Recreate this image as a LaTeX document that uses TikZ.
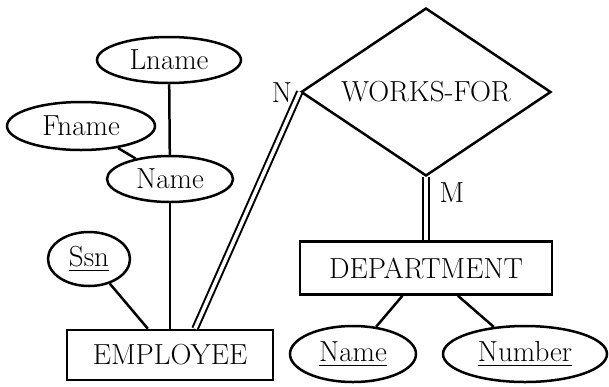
\documentclass[tikz,border=0pt]{standalone}
\usepackage{amsmath}
\usepackage{tikz}
\usetikzlibrary{shapes.geometric}

\begin{document}
\begin{tikzpicture}[x=1pt, y=-1pt, line width=2.5pt,
	every node/.style={font=\fontsize{29}{32}\selectfont, inner sep=0pt},
	attr/.style={draw, ellipse},
	entity/.style={draw, rectangle},
	rel/.style={draw, diamond, aspect=1.48},
	twin/.style={double, double distance=3.5pt, line width=2pt}]
	\useasboundingbox (0, 0) rectangle (609, 386);
	\node [attr, minimum width=144pt, minimum height=46pt] (Lname) at (169, 60) {Lname};
	\node [attr, minimum width=148pt, minimum height=48pt] (Fname) at (81, 126) {Fname};
	\node [attr, minimum width=126pt, minimum height=46pt] (Name) at (170, 179) {Name};
	\node [attr, minimum width=82pt, minimum height=54pt] (Ssn) at (89, 259) {\underline{Ssn}};
	\node [entity, minimum width=206pt, minimum height=50pt] (EMPLOYEE) at (170, 355) {EMPLOYEE};
	\node [rel, minimum width=250pt, minimum height=168pt] (WORKSFOR) at (426, 92) {WORKS-FOR};
	\node [entity, minimum width=252pt, minimum height=53pt] (DEPARTMENT) at (426, 268) {DEPARTMENT};
	\node [attr, minimum width=126pt, minimum height=56pt] (DName) at (353, 354) {\underline{Name}};
	\node [attr, minimum width=164pt, minimum height=56pt] (DNumber) at (525, 354) {\underline{Number}};
	\node (N) at (282, 93) {N};
	\node (M) at (452, 193) {M};
	\draw (Lname) -- (Name);
	\draw (Fname) -- (Name);
	\draw (Name) -- (EMPLOYEE);
	\draw (Ssn) -- (EMPLOYEE);
	\draw [twin] ([xshift=25pt]EMPLOYEE.north) -- (WORKSFOR.west);
	\draw [twin] (WORKSFOR.south) -- (DEPARTMENT.north);
	\draw (DEPARTMENT) -- (DName);
	\draw (DEPARTMENT) -- (DNumber);
\end{tikzpicture}
\end{document}
